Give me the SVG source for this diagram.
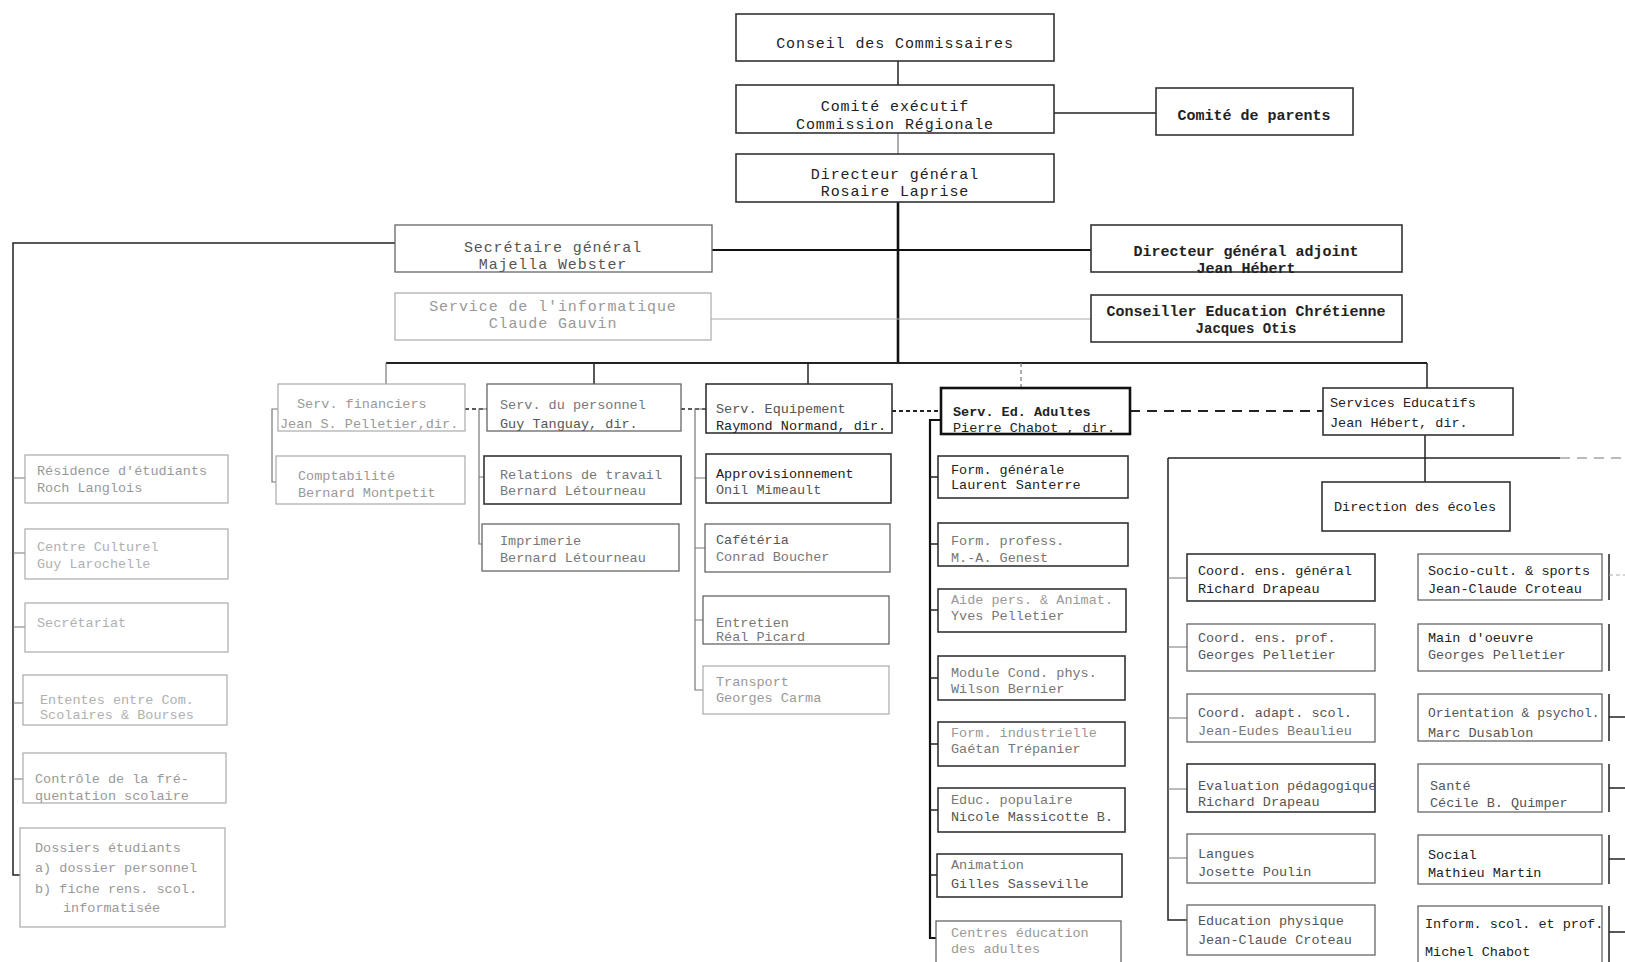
<svg xmlns="http://www.w3.org/2000/svg" width="1625" height="962" viewBox="0 0 1625 962">
<style>
.b{fill:#fff;stroke:#333;stroke-width:1.6}
.bk{fill:#fff;stroke:#111;stroke-width:2.6}
.bm{fill:#fff;stroke:#666;stroke-width:1.3}
.bf{fill:#fff;stroke:#aaa;stroke-width:1.2}
.t{font-family:"Liberation Mono","DejaVu Sans Mono",monospace;font-size:15px;letter-spacing:0.9px;fill:#222}
.c{text-anchor:middle}
.s{font-size:13.5px;letter-spacing:0}
.bo{font-weight:bold}
.d1{fill:#222}.d2{fill:#555}.d3{fill:#777}.d4{fill:#999}.d5{fill:#b0b0b0}
.ln{stroke:#222;stroke-width:1.5;fill:none}
.lt{stroke:#111;stroke-width:2.6;fill:none}
.lm{stroke:#777;stroke-width:1.2;fill:none}
.lf{stroke:#aaa;stroke-width:1;fill:none}
.ds{stroke-dasharray:10 7}
.dt{stroke-dasharray:4 3}
</style>
<rect width="1625" height="962" fill="#fff"/>
<g id="connectors">
<path class="ln" d="M898,61V85"/>
<path class="lm" d="M898,133V154"/>
<path class="lt" d="M898,202V363"/>
<path class="lt" d="M712,250H1091" style="stroke-width:2.2"/>
<path class="lf" d="M711,319H1091"/>
<path class="ln" d="M1054,113H1156"/>
<path class="ln" d="M395,243H13V875H20"/>
<path class="lm" d="M13,478H25M13,553H25M13,627H25M13,703H23M13,779H23"/>
<path class="ln" d="M386,363H1427" style="stroke-width:1.8"/>
<path class="lm" d="M386,363V384"/>
<path class="ln" d="M594,363V384"/>
<path class="ln" d="M808,363V384"/>
<path class="lm dt" d="M1021,363V388"/>
<path class="ln" d="M1427,363V388"/>
<path class="lm" d="M278,409H272V482H276"/>
<path class="ln dt" d="M465,409H487"/>
<path class="lm" d="M487,409H479V544H482M479,477H484"/>
<path class="ln dt" d="M681,409H706"/>
<path class="lm" d="M706,409H695V690H703M695,478H706M695,548H705M695,620H703"/>
<path class="ln dt" d="M892,411H941" style="stroke-width:2"/>
<path class="lt" d="M941,420H930V938H936" style="stroke-width:2.2"/>
<path class="ln" d="M930,477H938M930,544H938M930,610H938M930,678H938M930,744H938M930,810H938M930,875H937"/>
<path class="ln ds" d="M1130,411H1323" style="stroke-width:1.8"/>
<path class="ln" d="M1425,435V482"/>
<path class="ln" d="M1168,458H1560"/>
<path class="lm ds" d="M1560,458H1625"/>
<path class="ln" d="M1168,458V920H1187"/>
<path class="lm" d="M1168,578H1187M1168,647H1187M1168,718H1187M1168,789H1187M1168,858H1187"/>
<path class="ln" d="M1609,554V600M1609,624V671M1609,694V741M1609,764V812M1609,835V884M1609,906V962"/>
<path class="ln" d="M1609,717H1625M1609,788H1625M1609,859H1625M1609,932H1625"/>
<path class="lf dt" d="M1609,575H1625"/>
</g>
<g id="conseil"><rect class="b" x="736" y="14" width="318" height="47"/><text class="t c" x="895" y="48">Conseil des Commissaires</text></g>
<g id="comite-executif"><rect class="b" x="736" y="85" width="318" height="48"/><text class="t c" x="895" y="111">Comité exécutif</text><text class="t c" x="895" y="129">Commission Régionale</text></g>
<g id="directeur-general"><rect class="b" x="736" y="154" width="318" height="48"/><text class="t c" x="895" y="179">Directeur général</text><text class="t c" x="895" y="196">Rosaire Laprise</text></g>
<g id="comite-parents"><rect class="b" x="1156" y="88" width="197" height="47"/><text class="t c bo" x="1254" y="120" style="letter-spacing:0">Comité de parents</text></g>
<g id="secretaire"><rect class="bm" x="395" y="225" width="317" height="47"/><text class="t c d2" x="553" y="252">Secrétaire général</text><text class="t c d2" x="553" y="269">Majella Webster</text></g>
<g id="informatique"><rect class="bf" x="395" y="293" width="316" height="47"/><text class="t c d4" x="553" y="311">Service de l'informatique</text><text class="t c d4" x="553" y="328">Claude Gauvin</text></g>
<g id="dga"><rect class="b" x="1091" y="225" width="311" height="47"/><text class="t c bo" x="1246" y="256" style="letter-spacing:0">Directeur général adjoint</text><text class="t c bo" x="1246" y="273" style="letter-spacing:0">Jean Hébert</text></g>
<g id="conseiller"><rect class="b" x="1091" y="295" width="311" height="47"/><text class="t c bo" x="1246" y="316" style="letter-spacing:0">Conseiller Education Chrétienne</text><text class="t c bo" x="1246" y="333" style="font-size:14px;letter-spacing:0">Jacques Otis</text></g>

<g id="residence"><rect class="bf" x="25" y="455" width="203" height="48"/><text class="t s d4" x="37" y="475">Résidence d'étudiants</text><text class="t s d4" x="37" y="492">Roch Langlois</text></g>
<g id="centre-culturel"><rect class="bf" x="25" y="529" width="203" height="50"/><text class="t s d5" x="37" y="551">Centre Culturel</text><text class="t s d5" x="37" y="568">Guy Larochelle</text></g>
<g id="secretariat"><rect class="bf" x="25" y="603" width="203" height="49"/><text class="t s d5" x="37" y="627">Secrétariat</text></g>
<g id="ententes"><rect class="bf" x="23" y="675" width="204" height="50"/><text class="t s d5" x="40" y="704">Ententes entre Com.</text><text class="t s d5" x="40" y="719">Scolaires &amp; Bourses</text></g>
<g id="controle"><rect class="bf" x="23" y="753" width="203" height="50"/><text class="t s d4" x="35" y="783">Contrôle de la fré-</text><text class="t s d4" x="35" y="800">quentation scolaire</text></g>
<g id="dossiers"><rect class="bf" x="20" y="828" width="205" height="99"/><text class="t s d4" x="35" y="852">Dossiers étudiants</text><text class="t s d4" x="35" y="872">a) dossier personnel</text><text class="t s d4" x="35" y="893">b) fiche rens. scol.</text><text class="t s d4" x="63" y="912">informatisée</text></g>

<g id="serv-financiers"><rect class="bf" x="278" y="384" width="187" height="47"/><text class="t s d4" x="297" y="408">Serv. financiers</text><text class="t s d4" x="280" y="428">Jean S. Pelletier,dir.</text></g>
<g id="comptabilite"><rect class="bf" x="276" y="456" width="189" height="48"/><text class="t s d4" x="298" y="480">Comptabilité</text><text class="t s d4" x="298" y="497">Bernard Montpetit</text></g>

<g id="serv-personnel"><rect class="bm" x="487" y="384" width="194" height="47"/><text class="t s d3" x="500" y="409">Serv. du personnel</text><text class="t s d2" x="500" y="428">Guy Tanguay, dir.</text></g>
<g id="relations-travail"><rect class="b" x="484" y="456" width="197" height="48"/><text class="t s d3" x="500" y="479">Relations de travail</text><text class="t s d3" x="500" y="495">Bernard Létourneau</text></g>
<g id="imprimerie"><rect class="bm" x="482" y="524" width="197" height="47"/><text class="t s d3" x="500" y="545">Imprimerie</text><text class="t s d3" x="500" y="562">Bernard Létourneau</text></g>

<g id="serv-equipement"><rect class="b" x="706" y="384" width="186" height="49"/><text class="t s d2" x="716" y="413">Serv. Equipement</text><text class="t s d1" x="716" y="430">Raymond Normand, dir.</text></g>
<g id="approvisionnement"><rect class="b" x="706" y="454" width="185" height="49"/><text class="t s d1" x="716" y="478">Approvisionnement</text><text class="t s d2" x="716" y="494">Onil Mimeault</text></g>
<g id="cafeteria"><rect class="bm" x="705" y="524" width="185" height="48"/><text class="t s d2" x="716" y="544">Cafétéria</text><text class="t s d3" x="716" y="561">Conrad Boucher</text></g>
<g id="entretien"><rect class="bm" x="703" y="596" width="186" height="48"/><text class="t s d3" x="716" y="627">Entretien</text><text class="t s d3" x="716" y="641">Réal Picard</text></g>
<g id="transport"><rect class="bf" x="703" y="666" width="186" height="48"/><text class="t s d4" x="716" y="686">Transport</text><text class="t s d4" x="716" y="702">Georges Carma</text></g>

<g id="serv-ed-adultes"><rect class="bk" x="941" y="388" width="189" height="46"/><text class="t s d1 bo" x="953" y="416">Serv. Ed. Adultes</text><text class="t s d1" x="953" y="432">Pierre Chabot , dir.</text></g>
<g id="form-generale"><rect class="b" x="938" y="456" width="190" height="42"/><text class="t s d1" x="951" y="474">Form. générale</text><text class="t s d1" x="951" y="489">Laurent Santerre</text></g>
<g id="form-profess"><rect class="b" x="938" y="523" width="190" height="43"/><text class="t s d3" x="951" y="545">Form. profess.</text><text class="t s d3" x="951" y="562">M.-A. Genest</text></g>
<g id="aide-pers"><rect class="b" x="938" y="589" width="188" height="43"/><text class="t s d4" x="951" y="604">Aide pers. &amp; Animat.</text><text class="t s d3" x="951" y="620">Yves Pelletier</text></g>
<g id="module-cond"><rect class="b" x="938" y="656" width="187" height="44"/><text class="t s d3" x="951" y="677">Module Cond. phys.</text><text class="t s d3" x="951" y="693">Wilson Bernier</text></g>
<g id="form-industrielle"><rect class="b" x="938" y="722" width="187" height="44"/><text class="t s d4" x="951" y="737">Form. industrielle</text><text class="t s d3" x="951" y="753">Gaétan Trépanier</text></g>
<g id="educ-populaire"><rect class="b" x="938" y="788" width="187" height="44"/><text class="t s d3" x="951" y="804">Educ. populaire</text><text class="t s d2" x="951" y="821">Nicole Massicotte B.</text></g>
<g id="animation"><rect class="b" x="937" y="854" width="185" height="43"/><text class="t s d3" x="951" y="869">Animation</text><text class="t s d2" x="951" y="888">Gilles Sasseville</text></g>
<g id="centres-education"><rect class="bm" x="936" y="921" width="185" height="50"/><text class="t s d4" x="951" y="937">Centres éducation</text><text class="t s d4" x="951" y="953">des adultes</text></g>

<g id="services-educatifs"><rect class="b" x="1323" y="388" width="190" height="47"/><text class="t s d1" x="1330" y="407">Services Educatifs</text><text class="t s d1" x="1330" y="427">Jean Hébert, dir.</text></g>
<g id="direction-ecoles"><rect class="b" x="1322" y="482" width="188" height="49"/><text class="t s d1" x="1334" y="511">Direction des écoles</text></g>

<g id="coord-general"><rect class="b" x="1187" y="554" width="188" height="47"/><text class="t s d1" x="1198" y="575">Coord. ens. général</text><text class="t s d1" x="1198" y="593">Richard Drapeau</text></g>
<g id="coord-prof"><rect class="bm" x="1187" y="624" width="188" height="47"/><text class="t s d2" x="1198" y="642">Coord. ens. prof.</text><text class="t s d2" x="1198" y="659">Georges Pelletier</text></g>
<g id="coord-adapt"><rect class="bm" x="1187" y="694" width="188" height="48"/><text class="t s d2" x="1198" y="717">Coord. adapt. scol.</text><text class="t s d3" x="1198" y="735">Jean-Eudes Beaulieu</text></g>
<g id="evaluation"><rect class="b" x="1187" y="764" width="188" height="48"/><text class="t s d2" x="1198" y="790">Evaluation pédagogique</text><text class="t s d2" x="1198" y="806">Richard Drapeau</text></g>
<g id="langues"><rect class="bm" x="1187" y="834" width="188" height="49"/><text class="t s d2" x="1198" y="858">Langues</text><text class="t s d2" x="1198" y="876">Josette Poulin</text></g>
<g id="education-physique"><rect class="bm" x="1187" y="905" width="188" height="50"/><text class="t s d2" x="1198" y="925">Education physique</text><text class="t s d2" x="1198" y="944">Jean-Claude Croteau</text></g>

<g id="socio-cult"><rect class="bm" x="1418" y="554" width="184" height="46"/><text class="t s d1" x="1428" y="575">Socio-cult. &amp; sports</text><text class="t s d1" x="1428" y="593">Jean-Claude Croteau</text></g>
<g id="main-oeuvre"><rect class="bm" x="1418" y="624" width="184" height="47"/><text class="t s d1" x="1428" y="642">Main d'oeuvre</text><text class="t s d2" x="1428" y="659">Georges Pelletier</text></g>
<g id="orientation"><rect class="bm" x="1418" y="694" width="184" height="47"/><text class="t s d2" x="1428" y="717" style="font-size:13px">Orientation &amp; psychol.</text><text class="t s d2" x="1428" y="737">Marc Dusablon</text></g>
<g id="sante"><rect class="bm" x="1418" y="764" width="184" height="48"/><text class="t s d2" x="1430" y="790">Santé</text><text class="t s d2" x="1430" y="807">Cécile B. Quimper</text></g>
<g id="social"><rect class="bm" x="1418" y="835" width="184" height="49"/><text class="t s d1" x="1428" y="859">Social</text><text class="t s d1" x="1428" y="877">Mathieu Martin</text></g>
<g id="inform-scol"><rect class="bm" x="1418" y="906" width="184" height="60"/><text class="t s d1" x="1425" y="928">Inform. scol. et prof.</text><text class="t s d1" x="1425" y="956">Michel Chabot</text></g>
</svg>
